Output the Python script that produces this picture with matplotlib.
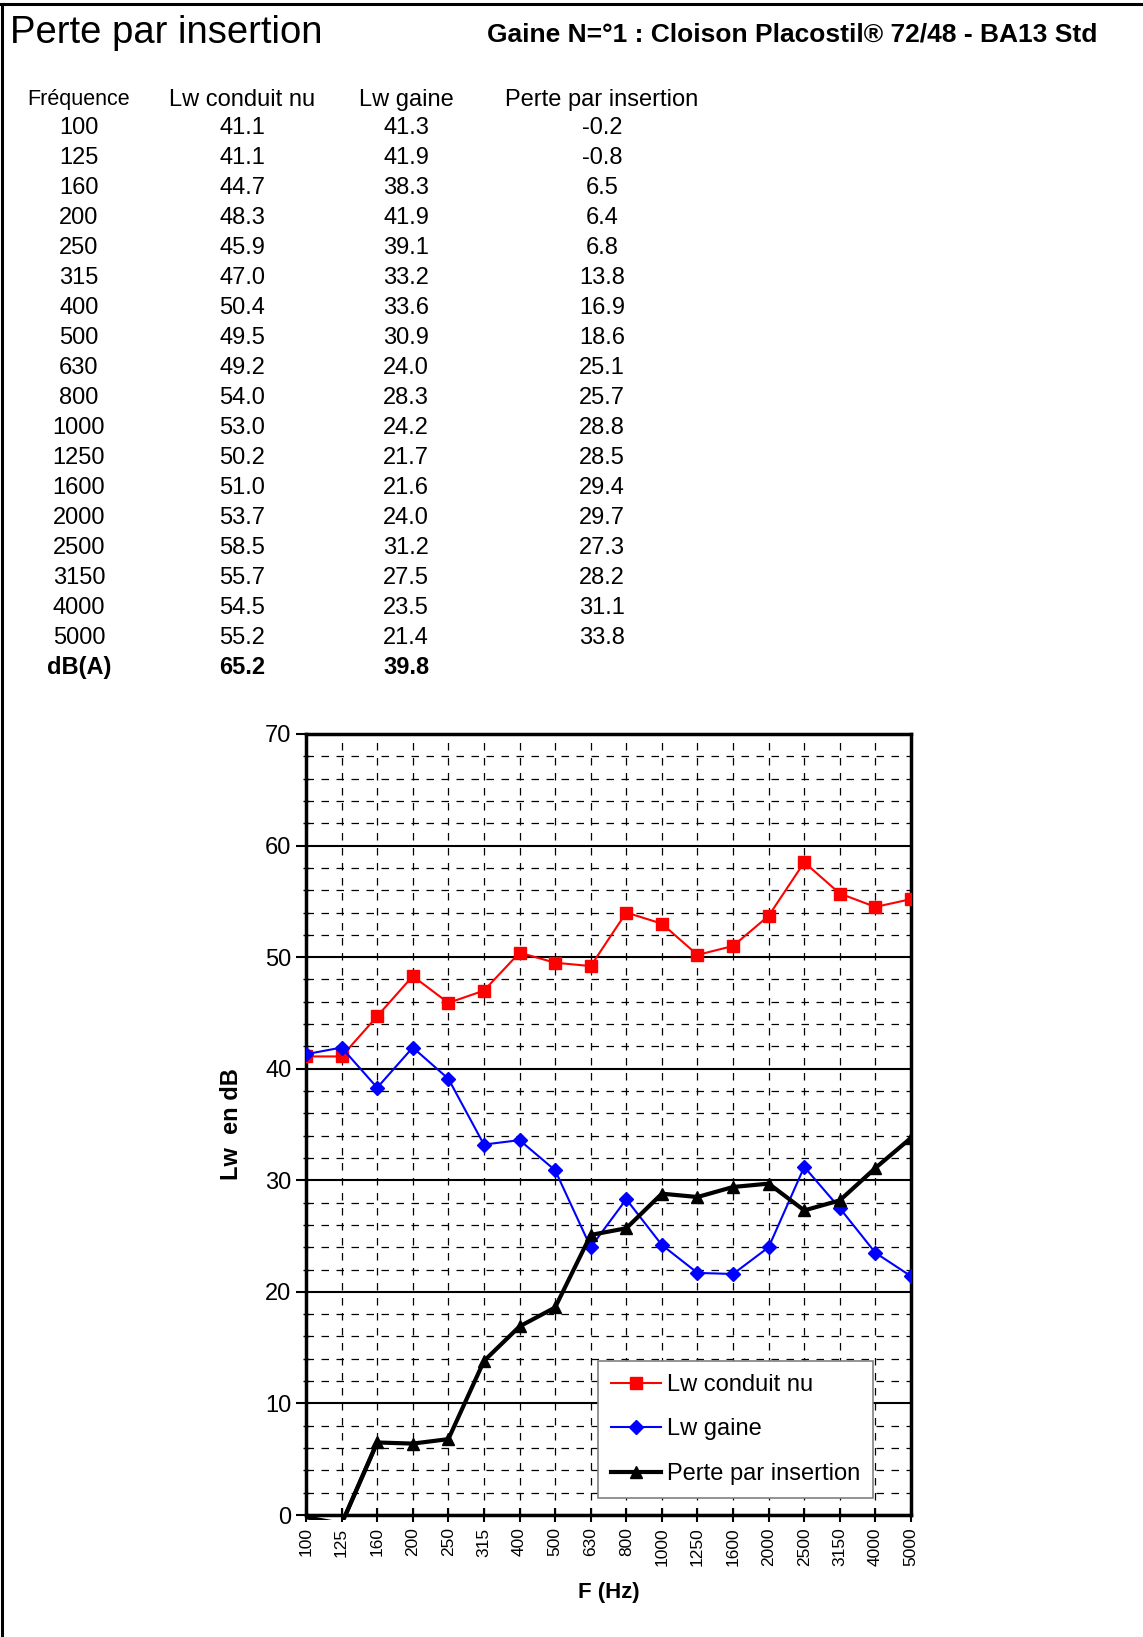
import numpy as np
import matplotlib.pyplot as plt
from matplotlib.lines import Line2D
from matplotlib.patches import Rectangle
from matplotlib.ticker import MultipleLocator

plt.rcParams["font.family"] = ["Liberation Sans", "DejaVu Sans"]

freqs = ["100", "125", "160", "200", "250", "315", "400", "500", "630", "800",
         "1000", "1250", "1600", "2000", "2500", "3150", "4000", "5000"]
lw_nu = [41.1, 41.1, 44.7, 48.3, 45.9, 47.0, 50.4, 49.5, 49.2, 54.0,
         53.0, 50.2, 51.0, 53.7, 58.5, 55.7, 54.5, 55.2]
lw_gaine = [41.3, 41.9, 38.3, 41.9, 39.1, 33.2, 33.6, 30.9, 24.0, 28.3,
            24.2, 21.7, 21.6, 24.0, 31.2, 27.5, 23.5, 21.4]
perte = [-0.2, -0.8, 6.5, 6.4, 6.8, 13.8, 16.9, 18.6, 25.1, 25.7,
         28.8, 28.5, 29.4, 29.7, 27.3, 28.2, 31.1, 33.8]
dba_nu = 65.2
dba_gaine = 39.8

W, H = 1143, 1637
fig = plt.figure(figsize=(W / 100, H / 100), dpi=100)

# left and top border of the sheet
fig.lines.append(Line2D([1.5 / W, 1.5 / W], [0, 1 - 4 / H], transform=fig.transFigure, color="black", linewidth=2.2))
fig.lines.append(Line2D([0, 1], [1 - 4 / H, 1 - 4 / H], transform=fig.transFigure, color="black", linewidth=2.2))

def fy(y):
    return 1 - y / H

fig.text(10 / W, fy(33), "Perte par insertion", fontsize=27.5, va="center", ha="left")
fig.text(1097 / W, fy(34), "Gaine N=°1 : Cloison Placostil® 72/48 - BA13 Std",
         fontsize=19, fontweight="bold", va="center", ha="right")

# table
fs = 17
cols_x = [79, 242, 406, 602]
heads = ["Fréquence", "Lw conduit nu", "Lw gaine", "Perte par insertion"]
for x, h in zip(cols_x, heads):
    fig.text(x / W, fy(100), h, fontsize=15.5 if h == "Fréquence" else fs, ha="center", va="center")
row0, dy = 128.4, 29.95
for i, f in enumerate(freqs):
    y = fy(row0 + i * dy)
    fig.text(cols_x[0] / W, y, f, fontsize=fs, ha="center", va="center")
    fig.text(cols_x[1] / W, y, "%.1f" % lw_nu[i], fontsize=fs, ha="center", va="center")
    fig.text(cols_x[2] / W, y, "%.1f" % lw_gaine[i], fontsize=fs, ha="center", va="center")
    fig.text(cols_x[3] / W, y, "%.1f" % perte[i], fontsize=fs, ha="center", va="center")
y = fy(row0 + len(freqs) * dy)
fig.text(cols_x[0] / W, y, "dB(A)", fontsize=fs, fontweight="bold", ha="center", va="center")
fig.text(cols_x[1] / W, y, "%.1f" % dba_nu, fontsize=fs, fontweight="bold", ha="center", va="center")
fig.text(cols_x[2] / W, y, "%.1f" % dba_gaine, fontsize=fs, fontweight="bold", ha="center", va="center")

# chart
ax = fig.add_axes([306 / W, 1 - 1515 / H, 605 / W, 781 / H])
x = np.arange(len(freqs))
ax.plot(x, lw_nu, color="red", marker="s", markersize=9, linewidth=1.5, label="Lw conduit nu", zorder=4)
ax.plot(x, lw_gaine, color="blue", marker="D", markersize=7, linewidth=1.5, label="Lw gaine", zorder=4)
ax.plot(x, perte, color="black", marker="^", markersize=9, linewidth=3, label="Perte par insertion", zorder=5)
# the bit just under the axis at 100-125 (plot area clip is a little lower)
low, = ax.plot(x[:3], perte[:3], color="black", linewidth=3, zorder=5)
low.set_clip_path(Rectangle((0, -5 / 781), 1, 1, transform=ax.transAxes))

ax.set_xlim(0, len(freqs) - 1)
ax.set_ylim(0, 70)
ax.set_xticks(x)
ax.set_xticklabels(freqs, rotation=90, fontsize=12.5)
ax.yaxis.set_major_locator(MultipleLocator(10))
ax.yaxis.set_minor_locator(MultipleLocator(2))
ax.tick_params(axis="y", which="major", labelsize=17, length=7, width=1.5, direction="out")
ax.tick_params(axis="y", which="minor", length=5, width=1, direction="inout")
ax.tick_params(axis="x", which="major", length=10, width=1.5, direction="inout", pad=4)

ax.grid(axis="y", which="major", color="black", linewidth=1.5, linestyle="-")
ax.grid(axis="y", which="minor", color="black", linewidth=0.9, linestyle=(0, (6, 6)))
ax.grid(axis="x", which="major", color="black", linewidth=0.9, linestyle=(0, (6, 6)))
ax.set_axisbelow(True)
for s in ax.spines.values():
    s.set_linewidth(2.5)

ax.set_ylabel("Lw  en dB", fontsize=17, fontweight="bold", labelpad=16)
ax.set_xlabel("F (Hz)", fontsize=16, fontweight="bold", labelpad=11)

leg = ax.legend(loc="lower right", bbox_to_anchor=(0.937, 0.022), borderaxespad=0, fontsize=17,
                fancybox=False, framealpha=1, edgecolor="gray", borderpad=0.55,
                labelspacing=0.95, handlelength=2.1, handletextpad=0.25)
leg.get_frame().set_linewidth(1.2)

fig.savefig("out.png", dpi=100)
